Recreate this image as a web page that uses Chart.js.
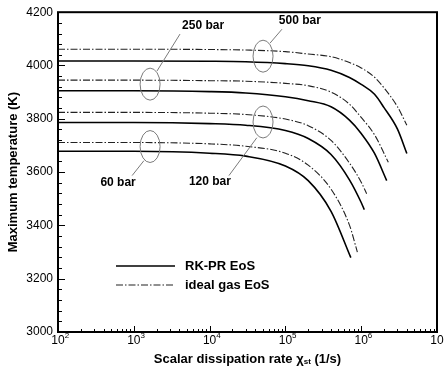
<!DOCTYPE html>
<html>
<head>
<meta charset="utf-8">
<script src="https://cdn.jsdelivr.net/npm/chart.js@4/dist/chart.umd.min.js"></script>
<style>html,body{margin:0;padding:0;background:#fff}</style>
</head>
<body>
<canvas id="myChart" width="444" height="371"></canvas>
<script>
// scalar dissipation rate (1/s) and max temperature (K) for each pressure
const chi500rk = [1e2, 1e3, 1e4, 3e4, 1e5, 2e5, 4e5, 7e5, 1e6, 1.5e6, 2e6, 3e6, 4e6];
const T500rk   = [4017, 4017, 4016, 4014, 4007, 3999, 3982, 3955, 3929, 3892, 3842, 3762, 3670];
const chi500ig = [1e2, 1e3, 1e4, 3e4, 1e5, 2e5, 4e5, 7e5, 1e6, 1.5e6, 2e6, 3e6, 4e6];
const T500ig   = [4061, 4061, 4060, 4058, 4052, 4043, 4033, 4011, 3991, 3956, 3916, 3846, 3776];

const chi250rk = [1e2, 1e3, 1e4, 3e4, 1e5, 2e5, 4e5, 7e5, 1e6, 1.5e6, 2.17e6];
const T250rk   = [3905, 3905, 3902, 3897, 3883, 3868, 3845, 3795, 3745, 3670, 3568];
const chi250ig = [1e2, 1e3, 1e4, 3e4, 1e5, 2e5, 4e5, 7e5, 1e6, 1.5e6, 2.28e6];
const T250ig   = [3945, 3945, 3943, 3941, 3933, 3924, 3900, 3855, 3805, 3740, 3637];

const chi120rk = [1e2, 1e3, 1e4, 3e4, 1e5, 2e5, 4e5, 7e5, 1e6, 1.1e6];
const T120rk   = [3786, 3786, 3782, 3776, 3756, 3726, 3666, 3571, 3486, 3459];
const chi120ig = [1e2, 1e3, 1e4, 3e4, 1e5, 2e5, 4e5, 7e5, 1e6, 1.18e6];
const T120ig   = [3824, 3824, 3821, 3816, 3799, 3774, 3719, 3634, 3562, 3519];

const chi60rk = [1e2, 1e3, 1e4, 3e4, 1e5, 2e5, 4e5, 7.3e5];
const T60rk   = [3678, 3678, 3671, 3660, 3623, 3568, 3453, 3279];
const chi60ig = [1e2, 1e3, 1e4, 3e4, 1e5, 2e5, 4e5, 7e5, 8.9e5];
const T60ig   = [3711, 3711, 3706, 3697, 3671, 3626, 3536, 3401, 3300];

const yTicks = [3000, 3200, 3400, 3600, 3800, 4000, 4200];
const xExponents = [2, 3, 4, 5, 6, 7];
const legendLabels = ['RK-PR EoS', 'ideal gas EoS'];

// pressure labels: text position, ellipse centre, leader line (data units)
const pLabels = ['250 bar', '500 bar', '120 bar', '60 bar'];
const pLabelAt = [[8.2e3, 4148], [1.55e5, 4170], [1.01e4, 3564], [6.2e2, 3561]];
const pEllipseAt = [[1.64e3, 3930], [5.07e4, 4035], [5.07e4, 3788], [1.64e3, 3696]];
const pLeader = [[[4.07e3, 4118], [2.02e3, 3979]], [[9.0e4, 4136], [6.27e4, 4084]],
                 [[4.2e4, 3729], [1.8e4, 3587]], [[1.36e3, 3643], [9.5e2, 3587]]];

const FONT = '"Liberation Sans", Arial, sans-serif';
const pts = (xs, ys) => xs.map((x, i) => ({x: x, y: ys[i]}));
const solid = (xs, ys) => ({data: pts(xs, ys), borderColor: '#000', borderWidth: 1.6, showLine: true,
  pointRadius: 0, cubicInterpolationMode: 'monotone', fill: false});
const dashDot = (xs, ys) => ({data: pts(xs, ys), borderColor: '#222', borderWidth: 1.1, showLine: true,
  borderDash: [7, 2, 1.5, 2], pointRadius: 0, cubicInterpolationMode: 'monotone', fill: false});

const decor = {
  id: 'decor',
  afterDraw(chart) {
    const ctx = chart.ctx;
    const a = chart.chartArea;
    const xs = chart.scales.x, ys = chart.scales.y;
    ctx.save();
    ctx.strokeStyle = '#000';
    // inward ticks
    ctx.lineWidth = 1;
    ctx.beginPath();
    for (let v = 3000; v <= 4200; v += 40) {
      const py = Math.round(ys.getPixelForValue(v)) + 0.5;
      const len = v % 200 === 0 ? 7 : 4;
      ctx.moveTo(a.left, py); ctx.lineTo(a.left + len, py);
    }
    for (let d = 2; d < 7; d++) {
      for (let m = 1; m < 10; m++) {
        const px = Math.round(xs.getPixelForValue(m * Math.pow(10, d))) + 0.5;
        const len = m === 1 ? 6 : 3;
        ctx.moveTo(px, a.bottom); ctx.lineTo(px, a.bottom - len);
      }
    }
    ctx.stroke();
    // frame
    ctx.lineWidth = 2;
    ctx.strokeRect(a.left, a.top, a.right - a.left, a.bottom - a.top);

    // x tick labels 10^n
    ctx.fillStyle = '#000';
    ctx.textBaseline = 'middle';
    xExponents.forEach(e => {
      const px = xs.getPixelForValue(Math.pow(10, e));
      ctx.font = '12px ' + FONT;
      ctx.textAlign = 'center';
      ctx.fillText('10', px, 341);
      const w = ctx.measureText('10').width;
      ctx.font = '8px ' + FONT;
      ctx.textAlign = 'left';
      ctx.fillText(String(e), px + w / 2, 336);
    });

    // x title with subscript
    const parts = [['Scalar dissipation rate \u03c7', 'bold 13px ' + FONT, 0],
                   ['st', 'bold 8px ' + FONT, 3],
                   [' (1/s)', 'bold 13px ' + FONT, 0]];
    let total = 0;
    parts.forEach(p => { ctx.font = p[1]; total += ctx.measureText(p[0]).width; });
    let tx = (a.left + a.right) / 2 - total / 2;
    ctx.textAlign = 'left';
    parts.forEach(p => {
      ctx.font = p[1];
      ctx.fillText(p[0], tx, 359 + p[2]);
      tx += ctx.measureText(p[0]).width;
    });

    // legend
    ctx.lineWidth = 1.6;
    ctx.beginPath(); ctx.moveTo(116, 266); ctx.lineTo(175, 266); ctx.stroke();
    ctx.lineWidth = 1.1;
    ctx.strokeStyle = '#222';
    ctx.setLineDash([7, 2, 1.5, 2]);
    ctx.beginPath(); ctx.moveTo(116, 285); ctx.lineTo(175, 285); ctx.stroke();
    ctx.setLineDash([]);
    ctx.font = 'bold 13px ' + FONT;
    ctx.fillText(legendLabels[0], 185, 266);
    ctx.fillText(legendLabels[1], 185, 285);

    // pressure annotations
    ctx.strokeStyle = '#7a7a7a';
    ctx.lineWidth = 1;
    pLabels.forEach((t, i) => {
      const cx = xs.getPixelForValue(pEllipseAt[i][0]);
      const cy = ys.getPixelForValue(pEllipseAt[i][1]);
      ctx.beginPath(); ctx.ellipse(cx, cy, 10, 16, 0, 0, Math.PI * 2); ctx.stroke();
      const l = pLeader[i];
      ctx.beginPath();
      ctx.moveTo(xs.getPixelForValue(l[0][0]), ys.getPixelForValue(l[0][1]));
      ctx.lineTo(xs.getPixelForValue(l[1][0]), ys.getPixelForValue(l[1][1]));
      ctx.stroke();
      ctx.font = 'bold 12px ' + FONT;
      ctx.textAlign = 'center';
      ctx.fillStyle = '#000';
      ctx.fillText(t, xs.getPixelForValue(pLabelAt[i][0]), ys.getPixelForValue(pLabelAt[i][1]));
    });
    ctx.restore();
  }
};

const ctx = document.getElementById('myChart').getContext('2d');
const chart = new Chart(ctx, {
  type: 'scatter',
  data: {
    datasets: [
      solid(chi500rk, T500rk), dashDot(chi500ig, T500ig),
      solid(chi250rk, T250rk), dashDot(chi250ig, T250ig),
      solid(chi120rk, T120rk), dashDot(chi120ig, T120ig),
      solid(chi60rk, T60rk), dashDot(chi60ig, T60ig)
    ]
  },
  options: {
    responsive: false,
    animation: false,
    devicePixelRatio: 1,
    layout: {padding: {top: 11, right: 7, left: 0, bottom: 0}},
    plugins: {legend: {display: false}, tooltip: {enabled: false}},
    scales: {
      x: {
        type: 'logarithmic', min: 100, max: 1e7,
        ticks: {display: false},
        grid: {display: false},
        border: {display: false},
        afterFit: s => { s.height = 39; }
      },
      y: {
        type: 'linear', min: 3000, max: 4200,
        afterBuildTicks: s => { s.ticks = yTicks.map(v => ({value: v})); },
        ticks: {color: '#000', padding: 5, font: {size: 12, family: FONT}, callback: v => String(v)},
        grid: {display: false, drawTicks: false},
        border: {display: false},
        title: {display: true, text: 'Maximum temperature (K)', color: '#000',
                font: {size: 13, weight: 'bold', family: FONT}, padding: {top: 6, bottom: 0}},
        afterFit: s => { s.width = 58; }
      }
    }
  },
  plugins: [decor]
});
</script>
</body>
</html>
